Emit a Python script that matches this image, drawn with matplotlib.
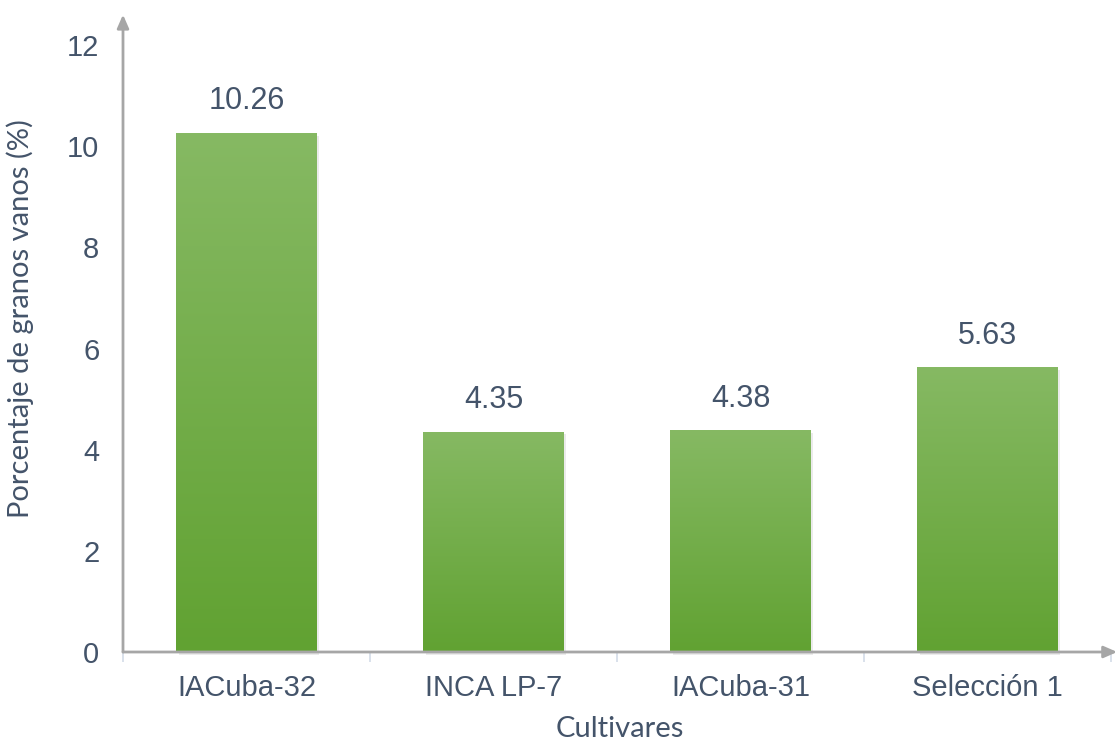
import numpy as np
import matplotlib.pyplot as plt
from matplotlib.colors import LinearSegmentedColormap

cultivares = ["IACuba-32", "INCA LP-7", "IACuba-31", "Selección 1"]
valores = [10.26, 4.35, 4.38, 5.63]
yticks = [0, 2, 4, 6, 8, 10, 12]

txt = "#44546a"
fig = plt.figure(figsize=(11.15, 7.4), dpi=100)
ax = fig.add_axes([123/1115, 88/740, 988/1115, 607/740])
ax.set_xlim(-0.5, 3.5)
ax.set_ylim(0, 12)

x = np.arange(len(cultivares))
w = 0.567
cmap = LinearSegmentedColormap.from_list("g", ["#61a232", "#86b963"])
grad = np.linspace(0, 1, 256).reshape(-1, 1)

for xi, v in zip(x, valores):
    # sombra ligera
    ax.bar(xi + 0.012, v, w, bottom=-0.05, color="#000000", alpha=0.08, zorder=1, clip_on=False)
    b = ax.bar(xi, v, w, color="none", zorder=2)[0]
    im = ax.imshow(grad, cmap=cmap, origin="lower", aspect="auto",
                   extent=(xi - w/2, xi + w/2, 0, v), zorder=2)
    im.set_clip_path(b)
    ax.text(xi, v + 0.33, f"{v:.2f}", ha="center", va="bottom", fontsize=22,
            color=txt, family="Liberation Sans")

ax.set_xlim(-0.5, 3.5)
ax.set_ylim(0, 12)

for s in ax.spines.values():
    s.set_visible(False)

# ejes con flechas
ax.annotate("", xy=(-0.5, 12.6), xytext=(-0.5, 0), xycoords="data",
            arrowprops=dict(arrowstyle="-|>,head_length=0.8,head_width=0.35",
                            color="#a6a6a6", lw=2, shrinkA=0, shrinkB=0),
            annotation_clip=False)
ax.annotate("", xy=(3.525, 0), xytext=(-0.5, 0), xycoords="data",
            arrowprops=dict(arrowstyle="-|>,head_length=0.8,head_width=0.35",
                            color="#a6a6a6", lw=2, shrinkA=0, shrinkB=0),
            annotation_clip=False)

ax.set_yticks(yticks)
ax.set_yticklabels([str(t) for t in yticks], fontsize=21, color=txt, family="Liberation Sans")
ax.tick_params(axis="y", length=0, pad=17)

ax.set_xticks(x)
ax.set_xticklabels(cultivares, fontsize=21, color=txt, family="Liberation Sans")
ax.set_xticks(np.arange(-0.5, 3.6, 0.5), minor=True)
ax.tick_params(axis="x", which="major", length=0, pad=16)
ax.tick_params(axis="x", which="minor", length=7, color="#d3dce8", width=1.2)
ax.tick_params(axis="x", which="major", bottom=False)

ax.set_xlabel("Cultivares", fontsize=21, color=txt, family="Lato")
ax.xaxis.set_label_coords(0.503, -0.127)
ax.xaxis.label.set_va("center")
ax.set_ylabel("Porcentaje de granos vanos (%)", fontsize=21, color=txt, family="Lato")
ax.yaxis.set_label_coords(-0.104, 0.55)
ax.yaxis.label.set_va("center")

fig.savefig("out.png", dpi=100)
